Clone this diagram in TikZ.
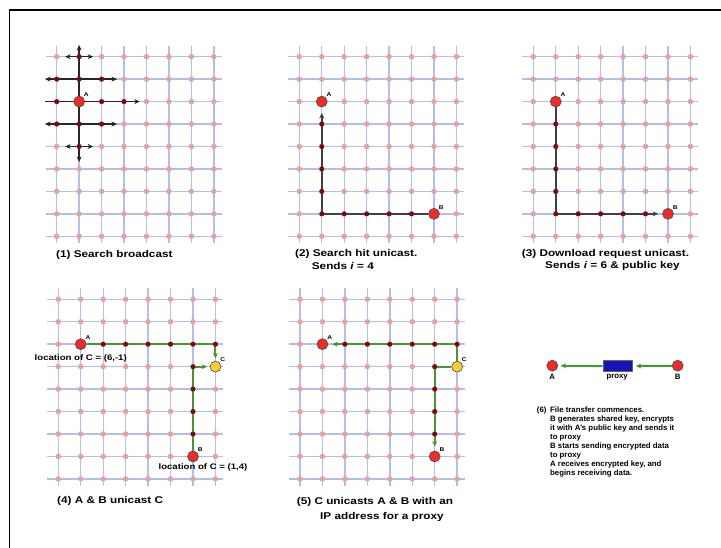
\documentclass[tikz,border=0pt]{standalone}
\usepackage{fontspec}
\setmainfont{Liberation Sans}
\newfontfamily\capfont[FakeStretch=1.2]{Liberation Sans}
\usetikzlibrary{arrows.meta,positioning}

\definecolor{gridblue}{RGB}{180,188,240}
\definecolor{dotpink}{RGB}{232,160,160}
\definecolor{hopred}{RGB}{125,10,10}
\definecolor{peerred}{RGB}{235,45,40}
\definecolor{peeryellow}{RGB}{245,205,55}
\definecolor{linkgreen}{RGB}{70,150,55}
\definecolor{proxyblue}{RGB}{20,20,185}

\tikzset{
  gridline/.style={gridblue, line width=1.4pt},
  griddot/.style={circle, fill=dotpink, inner sep=0pt, minimum size=5.5pt},
  hop/.style={circle, fill=hopred, inner sep=0pt, minimum size=5pt},
  peer/.style={circle, draw=black!70, fill=peerred, line width=0.6pt, inner sep=0pt, minimum size=11pt},
  superpeer/.style={peer, fill=peeryellow},
  proxy/.style={draw=black!60, fill=proxyblue, inner sep=0pt, minimum width=29pt, minimum height=11pt},
  tag/.style={font=\capfont\bfseries\fontsize{5.5}{6}\selectfont, inner sep=0.5pt},
  locnote/.style={font=\capfont\bfseries\fontsize{8}{9}\selectfont, inner sep=0pt},
  caption/.style={font=\capfont\bfseries\fontsize{9.8}{11.7}\selectfont, inner sep=0pt, anchor=west},
  note/.style={font=\bfseries\fontsize{7.8}{8.95}\selectfont, inner sep=0pt, align=left},
  bcast/.style={black!85, line width=1.5pt},
  route/.style={black!75, line width=1.6pt, ->, shorten >=4pt},
  link/.style={linkgreen, line width=2pt, ->, shorten >=2.5pt},
}

\newcommand{\gs}{22.45}
% grid of one panel: 8 columns, 9 rows, dots named #1-col-row
\newcommand{\meshgrid}[1]{%
  \foreach \c in {1,...,8}
    \draw[gridline] ({(\c-1)*\gs},-11) -- ({(\c-1)*\gs},{8*\gs+7});
  \foreach \r in {1,...,9}
    \draw[gridline] (-11,{(\r-1)*\gs}) -- ({7*\gs+8},{(\r-1)*\gs});
  \foreach \c in {1,...,8}
    \foreach \r in {1,...,9}
      \node[griddot] (#1-\c-\r) at ({(\c-1)*\gs},{(\r-1)*\gs}) {};
}
% dark dots on the hops of a path
\newcommand{\hops}[2]{%
  \foreach \c/\r in {#2}
    \node[hop] (h#1-\c-\r) at (#1-\c-\r) {};
}

\begin{document}
\begin{tikzpicture}[x=1pt, y=-1pt, >={Stealth[length=5.5pt,width=5pt]}]
  \useasboundingbox (0,0) rectangle (721,548);
  \fill[white] (0,0) rectangle (721,548);
  \draw[line width=1.2pt] (9.5,560) -- (9.5,10) -- (730,10);

  % (1) broadcast
  \begin{scope}[shift={(56.7,56.7)}]
    \meshgrid{p1}
    \draw[bcast, <->] ([yshift=11.7pt]p1-2-1.center) -- ([yshift=-15.5pt]p1-2-5.center);
    \draw[bcast, <->] ([xshift=-14pt]p1-2-1.center) -- ([xshift=14pt]p1-2-1.center);
    \draw[bcast, <->] ([xshift=-11.7pt]p1-1-2.center) -- ([xshift=15.4pt]p1-3-2.center);
    \draw[bcast, ->] ([xshift=-11.7pt]p1-1-3.center) -- ([xshift=15.7pt]p1-4-3.center);
    \draw[bcast, <->] ([xshift=-11.7pt]p1-1-4.center) -- ([xshift=15.4pt]p1-3-4.center);
    \draw[bcast, <->] ([xshift=-14pt]p1-2-5.center) -- ([xshift=14pt]p1-2-5.center);
    \hops{p1}{2/1,1/2,2/2,3/2,1/3,3/3,4/3,1/4,2/4,3/4,2/5}
    \node[peer] (a1) at (p1-2-3) {};
    \node[tag, anchor=south west] (a1-tag) at (a1.north east) {A};
  \end{scope}
  \node[caption] (cap1) at (56,255) {(1) Search broadcast};

  % (2) search hit
  \begin{scope}[shift={(299.3,56.7)}]
    \meshgrid{p2}
    \node[peer] (a2) at (p2-2-3) {};
    \node[peer] (b2) at (p2-7-8) {};
    \node[tag, anchor=south west] (a2-tag) at (a2.north east) {A};
    \node[tag, anchor=south west] (b2-tag) at (b2.north east) {B};
    \draw[route, shorten >=5.5pt] (b2) -- (p2-2-8.center) -- (a2);
    \hops{p2}{2/4,2/5,2/6,2/7,2/8,3/8,4/8,5/8,6/8}
  \end{scope}
  \node[caption] (cap2) at (295,254) {(2) Search hit unicast.};
  \node[caption] (cap2b) at (311.7,265.7) {Sends \textit{i} = 4};

  % (3) download request
  \begin{scope}[shift={(533.3,56.7)}]
    \meshgrid{p3}
    \node[peer] (a3) at (p3-2-3) {};
    \node[peer] (b3) at (p3-7-8) {};
    \node[tag, anchor=south west] (a3-tag) at (a3.north east) {A};
    \node[tag, anchor=south west] (b3-tag) at (b3.north east) {B};
    \draw[route] (a3) -- (p3-2-8.center) -- (b3);
    \hops{p3}{2/4,2/5,2/6,2/7,2/8,3/8,4/8,5/8,6/8}
  \end{scope}
  \node[caption] (cap3) at (521.7,254) {(3) Download request unicast.};
  \node[caption] (cap3b) at (545,265.7) {Sends \textit{i} = 6 \& public key};

  % (4) A and B find C
  \begin{scope}[shift={(58.3,299.3)}]
    \meshgrid{p4}
    \node[peer] (a4) at (p4-2-3) {};
    \node[superpeer] (c4) at (p4-8-4) {};
    \node[peer] (b4) at (p4-7-8) {};
    \node[tag, anchor=south west] (a4-tag) at (a4.north east) {A};
    \node[tag, anchor=south west] (c4-tag) at (c4.north east) {C};
    \node[tag, anchor=south west] (b4-tag) at (b4.north east) {B};
    \draw[link] (a4) -- (p4-8-3.center) -- (c4);
    \draw[link] (b4) -- (p4-7-4.center) -- (c4);
    \hops{p4}{3/3,4/3,5/3,6/3,7/3,8/3,7/4,7/5,7/6,7/7}
    \node[locnote] (a4-loc) at ([yshift=-14pt]a4.center) {location of C = (6,-1)};
    \node[locnote] (b4-loc) at ([xshift=10pt,yshift=-10.7pt]b4.center) {location of C = (1,4)};
  \end{scope}
  \node[caption] (cap4) at (57,500.7) {(4) A \& B unicast C};

  % (5) C hands out the proxy
  \begin{scope}[shift={(300,299.3)}]
    \meshgrid{p5}
    \node[peer] (a5) at (p5-2-3) {};
    \node[superpeer] (c5) at (p5-8-4) {};
    \node[peer] (b5) at (p5-7-8) {};
    \node[tag, anchor=south west] (a5-tag) at (a5.north east) {A};
    \node[tag, anchor=south west] (c5-tag) at (c5.north east) {C};
    \node[tag, anchor=south west] (b5-tag) at (b5.north east) {B};
    \draw[link, shorten >=4pt] (c5) -- (p5-8-3.center) -- (a5);
    \draw[link, shorten >=4pt] (c5) -- (p5-7-4.center) -- (b5);
    \hops{p5}{3/3,4/3,5/3,6/3,7/3,8/3,7/4,7/5,7/6,7/7}
  \end{scope}
  \node[caption] (cap5) at (296.7,502.3) {(5) C unicasts A \& B with an};
  \node[caption] (cap5b) at (320,516.7) {IP address for a proxy};

  % (6) transfer through the proxy
  \node[peer] (a6) at (552.3,365.7) {};
  \node[proxy] (px) at (617.2,366.2) {};
  \node[peer] (b6) at (677.7,365.7) {};
  \draw[link, shorten >=4pt] (b6) -- (px);
  \draw[link] (px) -- (a6);
  \node[note, below=2pt of a6] (a6-name) {A};
  \node[note, below=2pt of px] (px-name) {proxy};
  \node[note, below=2pt of b6] (b6-name) {B};
  \node[note, anchor=north west] (step6) at (536.7,406.5) {(6)};
  \node[note, anchor=north west] (steps) at (550,406.5) {File transfer commences.\\
    B generates shared key, encrypts\\
    it with A's public key and sends it\\
    to proxy\\
    B starts sending encrypted data\\
    to proxy\\
    A receives encrypted key, and\\
    begins receiving data.};
\end{tikzpicture}
\end{document}
